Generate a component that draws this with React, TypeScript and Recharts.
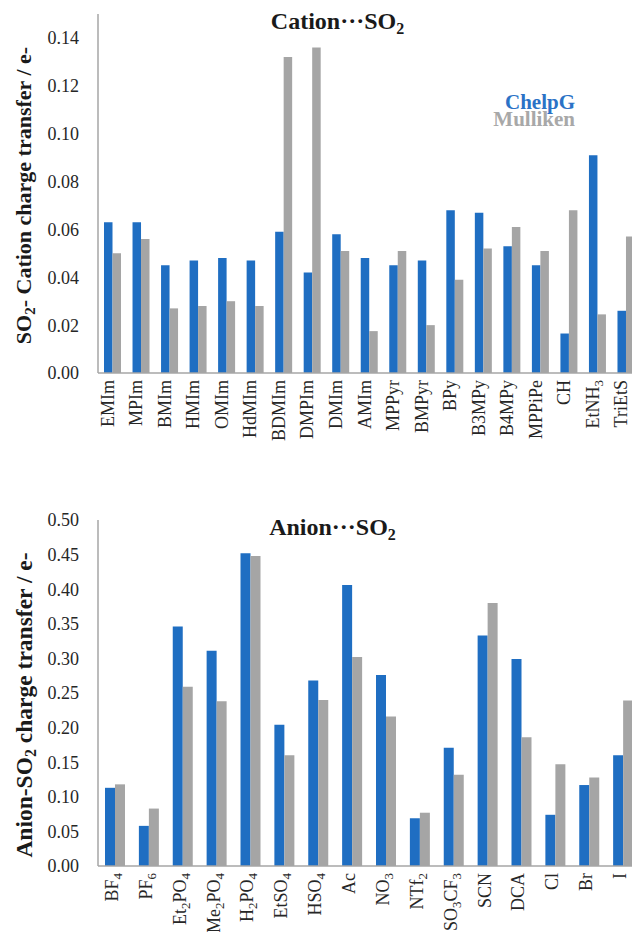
import React from "react";
import { BarChart, Bar, XAxis, YAxis } from "recharts";

// cation…SO2 panel
const cations = [
  "EMIm", "MPIm", "BMIm", "HMIm", "OMIm", "HdMIm", "BDMIm", "DMPIm", "DMIm", "AMIm",
  "MPPyr", "BMPyr", "BPy", "B3MPy", "B4MPy", "MPPiPe", "CH", "EtNH₃", "TriEtS",
];
const cationChelpG = [
  0.063, 0.063, 0.045, 0.047, 0.048, 0.047, 0.059, 0.042, 0.058, 0.048,
  0.045, 0.047, 0.068, 0.067, 0.053, 0.045, 0.0165, 0.091, 0.026,
];
const cationMulliken = [
  0.05, 0.056, 0.027, 0.028, 0.03, 0.028, 0.132, 0.136, 0.051, 0.0175,
  0.051, 0.02, 0.039, 0.052, 0.061, 0.051, 0.068, 0.0245, 0.057,
];
const cationTicks = [0, 0.02, 0.04, 0.06, 0.08, 0.1, 0.12, 0.14];

// anion…SO2 panel
const anions = [
  "BF₄", "PF₆", "Et₂PO₄", "Me₂PO₄", "H₂PO₄", "EtSO₄", "HSO₄", "Ac",
  "NO₃", "NTf₂", "SO₃CF₃", "SCN", "DCA", "Cl", "Br", "I",
];
const anionChelpG = [
  0.113, 0.058, 0.346, 0.311, 0.452, 0.204, 0.268, 0.406,
  0.276, 0.069, 0.171, 0.333, 0.299, 0.074, 0.117, 0.16,
];
const anionMulliken = [
  0.118, 0.083, 0.259, 0.238, 0.448, 0.16, 0.24, 0.302,
  0.216, 0.077, 0.132, 0.38, 0.186, 0.147, 0.128, 0.239,
];
const anionTicks = [0, 0.05, 0.1, 0.15, 0.2, 0.25, 0.3, 0.35, 0.4, 0.45, 0.5];

const BLUE = "#1f6ec2";
const GRAY = "#a5a5a5";
const AXIS = "#a6a6a6";
const SERIF = '"Liberation Serif", "Times New Roman", serif';

const cationData = cations.map((name, i) => ({
  name,
  chelpg: cationChelpG[i],
  mulliken: cationMulliken[i],
}));
const anionData = anions.map((name, i) => ({
  name,
  chelpg: anionChelpG[i],
  mulliken: anionMulliken[i],
}));

const SUBS = "₀₁₂₃₄₅₆₇₈₉";

// split "Et₂PO₄" into normal / subscript runs
function splitSub(s: string) {
  const out: { text: string; sub: boolean }[] = [];
  for (const ch of s) {
    const idx = SUBS.indexOf(ch);
    const sub = idx >= 0;
    const c = sub ? String(idx) : ch;
    const last = out[out.length - 1];
    if (last && last.sub === sub) last.text += c;
    else out.push({ text: c, sub });
  }
  return out;
}

function RotTick(props: any) {
  const { x, y, payload, shift } = props;
  const segs = splitSub(String(payload.value));
  let prev = false;
  return (
    <text
      transform={`translate(${x + shift},${y}) rotate(-90)`}
      textAnchor="end"
      fontFamily={SERIF}
      fontSize={18}
      fill="#262626"
    >
      {segs.map((seg, i) => {
        const dy = seg.sub && !prev ? 4 : !seg.sub && prev ? -4 : 0;
        prev = seg.sub;
        return (
          <tspan key={i} dy={dy} fontSize={seg.sub ? 13 : 18}>
            {seg.text}
          </tspan>
        );
      })}
    </text>
  );
}

const yTick = { fontFamily: SERIF, fontSize: 18, fill: "#262626" };

export default function App() {
  return (
    <div
      style={{
        position: "absolute",
        left: 0,
        top: 0,
        width: 632,
        height: 932,
        overflow: "hidden",
        background: "#fff",
      }}
    >
      <div style={{ position: "absolute", left: 0, top: 0 }}>
        <BarChart
          width={640}
          height={473}
          data={cationData}
          margin={{ top: 14, right: 0, bottom: 0, left: 0 }}
          barGap={0}
        >
          <XAxis
            dataKey="name"
            interval={0}
            height={100}
            tickLine={false}
            tickSize={0}
            tickMargin={7}
            axisLine={{ stroke: AXIS, strokeWidth: 1.5 }}
            tick={(p: any) => <RotTick {...p} shift={1.5} />}
          />
          <YAxis
            width={98}
            domain={[0, 0.15]}
            ticks={cationTicks}
            tickFormatter={(v: number) => v.toFixed(2)}
            tickLine={false}
            tickSize={0}
            tickMargin={19}
            axisLine={{ stroke: AXIS, strokeWidth: 1.5 }}
            tick={yTick}
          />
          <Bar dataKey="chelpg" fill={BLUE} barSize={8.5} isAnimationActive={false} />
          <Bar dataKey="mulliken" fill={GRAY} barSize={8.5} isAnimationActive={false} />
        </BarChart>
      </div>

      <div style={{ position: "absolute", left: 0, top: 473 }}>
        <BarChart
          width={640}
          height={459}
          data={anionData}
          margin={{ top: 47, right: 0, bottom: 0, left: 0 }}
          barGap={0}
        >
          <XAxis
            dataKey="name"
            interval={0}
            height={66}
            tickLine={false}
            tickSize={0}
            tickMargin={7}
            axisLine={{ stroke: AXIS, strokeWidth: 1.5 }}
            tick={(p: any) => <RotTick {...p} shift={3} />}
          />
          <YAxis
            width={98}
            domain={[0, 0.5]}
            ticks={anionTicks}
            tickFormatter={(v: number) => v.toFixed(2)}
            tickLine={false}
            tickSize={0}
            tickMargin={19}
            axisLine={{ stroke: AXIS, strokeWidth: 1.5 }}
            tick={yTick}
          />
          <Bar dataKey="chelpg" fill={BLUE} barSize={10} isAnimationActive={false} />
          <Bar dataKey="mulliken" fill={GRAY} barSize={10} isAnimationActive={false} />
        </BarChart>
      </div>

      {/* titles, axis titles, legend */}
      <svg
        width={632}
        height={932}
        style={{ position: "absolute", left: 0, top: 0, pointerEvents: "none" }}
        fontFamily={SERIF}
        fontWeight="bold"
        fill="#1a1a1a"
      >
        <text x={337.5} y={29} textAnchor="middle" fontSize={24}>
          Cation···SO
          <tspan fontSize={16} dy={5}>2</tspan>
        </text>
        <text x={332.5} y={535} textAnchor="middle" fontSize={24}>
          Anion···SO
          <tspan fontSize={16} dy={5}>2</tspan>
        </text>

        <text transform="translate(31,195.5) rotate(-90)" textAnchor="middle" fontSize={22}>
          SO
          <tspan fontSize={15} dy={4}>2</tspan>
          <tspan dy={-4}>- Cation charge transfer / e-</tspan>
        </text>
        <text transform="translate(32,705) rotate(-90)" textAnchor="middle" fontSize={23.5}>
          Anion-SO
          <tspan fontSize={16} dy={4}>2</tspan>
          <tspan dy={-4}> charge transfer / e-</tspan>
        </text>

        <text x={575} y={108.5} textAnchor="end" fontSize={21} fill="#2b72c6">
          ChelpG
        </text>
        <text x={575} y={125.5} textAnchor="end" fontSize={21} fill="#a8a8a8">
          Mulliken
        </text>
      </svg>
    </div>
  );
}
